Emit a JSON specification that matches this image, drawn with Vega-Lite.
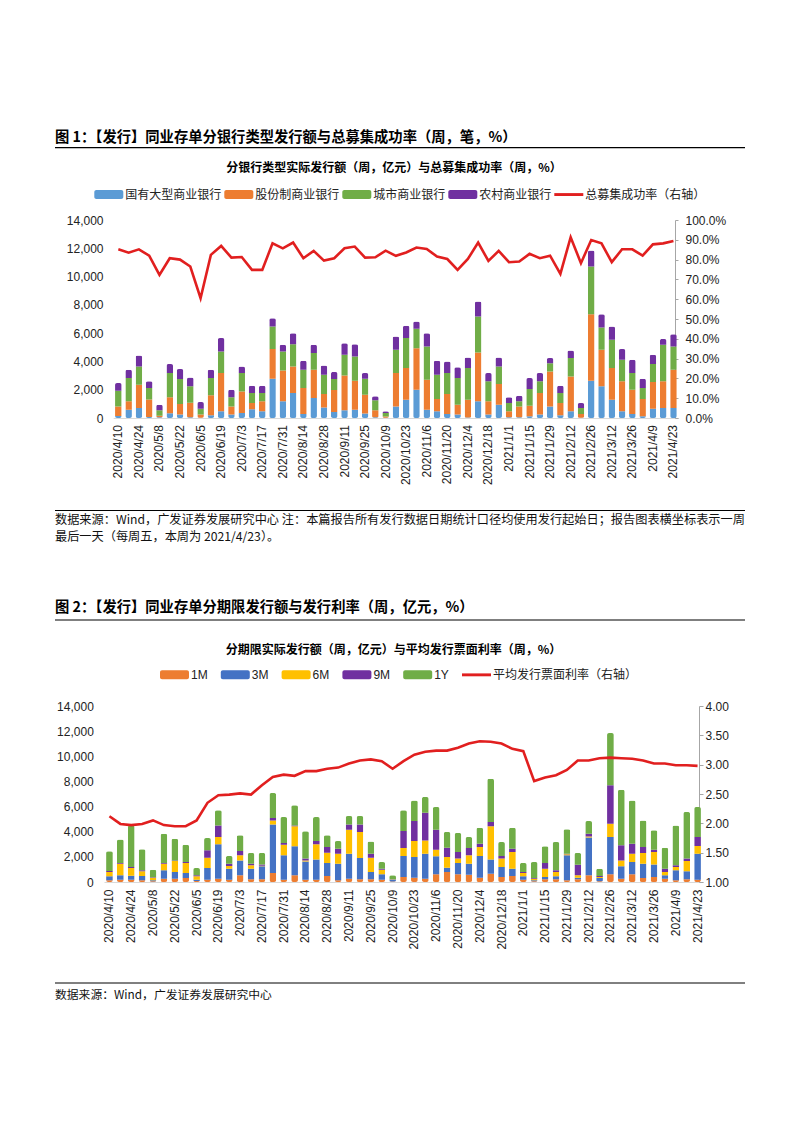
{
"$schema": "https://vega.github.io/schema/vega-lite/v6.json",
"background": "white",
"padding": {"left": 54, "top": 128, "right": 10, "bottom": 10},
"spacing": 0,
"config": {
  "view": {"stroke": null},
  "font": "Liberation Sans, Noto Sans CJK SC",
  "axis": {"labelFont": "Liberation Sans, Noto Sans CJK SC", "labelFontSize": 12, "labelColor": "#222", "grid": false},
  "title": {"font": "Noto Sans CJK SC", "fontSize": 12, "fontWeight": "bold", "color": "#000"}
},
"datasets": {
  "bankorder": [{"s": "国有大型商业银行", "o": 1}, {"s": "股份制商业银行", "o": 2}, {"s": "城市商业银行", "o": 3}, {"s": "农村商业银行", "o": 4}],
  "tenororder": [{"s": "1M", "o": 1}, {"s": "3M", "o": 2}, {"s": "6M", "o": 3}, {"s": "9M", "o": 4}, {"s": "1Y", "o": 5}],
  "bank": [
    {"d": "2020/4/10", "国有大型商业银行": 150, "股份制商业银行": 670, "城市商业银行": 1110, "农村商业银行": 540, "rate": 0.852},
    {"d": "2020/4/17", "国有大型商业银行": 590, "股份制商业银行": 590, "城市商业银行": 1640, "农村商业银行": 590, "rate": 0.835},
    {"d": "2020/4/24", "国有大型商业银行": 700, "股份制商业银行": 1650, "城市商业银行": 1300, "农村商业银行": 770, "rate": 0.852},
    {"d": "2020/5/1", "国有大型商业银行": 70, "股份制商业银行": 1230, "城市商业银行": 820, "农村商业银行": 470, "rate": 0.820},
    {"d": "2020/5/8", "国有大型商业银行": 50, "股份制商业银行": 110, "城市商业银行": 380, "农村商业银行": 400, "rate": 0.723},
    {"d": "2020/5/15", "国有大型商业银行": 330, "股份制商业银行": 1130, "城市商业银行": 1720, "农村商业银行": 630, "rate": 0.807},
    {"d": "2020/5/22", "国有大型商业银行": 240, "股份制商业银行": 750, "城市商业银行": 1760, "农村商业银行": 710, "rate": 0.800},
    {"d": "2020/5/29", "国有大型商业银行": 50, "股份制商业银行": 1030, "城市商业银行": 1160, "农村商业银行": 630, "rate": 0.765},
    {"d": "2020/6/5", "国有大型商业银行": 20, "股份制商业银行": 220, "城市商业银行": 420, "农村商业银行": 470, "rate": 0.605},
    {"d": "2020/6/12", "国有大型商业银行": 190, "股份制商业银行": 1410, "城市商业银行": 1220, "农村商业银行": 590, "rate": 0.824},
    {"d": "2020/6/19", "国有大型商业银行": 470, "股份制商业银行": 2710, "城市商业银行": 1520, "农村商业银行": 950, "rate": 0.869},
    {"d": "2020/6/26", "国有大型商业银行": 240, "股份制商业银行": 580, "城市商业银行": 640, "农村商业银行": 540, "rate": 0.810},
    {"d": "2020/7/3", "国有大型商业银行": 350, "股份制商业银行": 1530, "城市商业银行": 1300, "农村商业银行": 470, "rate": 0.813},
    {"d": "2020/7/10", "国有大型商业银行": 610, "股份制商业银行": 450, "城市商业银行": 700, "农村商业银行": 520, "rate": 0.748},
    {"d": "2020/7/17", "国有大型商业银行": 470, "股份制商业银行": 710, "城市商业银行": 580, "农村商业银行": 520, "rate": 0.748},
    {"d": "2020/7/24", "国有大型商业银行": 2780, "股份制商业银行": 2090, "城市商业银行": 1600, "农村商业银行": 590, "rate": 0.882},
    {"d": "2020/7/31", "国有大型商业银行": 1180, "股份制商业银行": 2180, "城市商业银行": 1340, "农村商业银行": 480, "rate": 0.857},
    {"d": "2020/8/7", "国有大型商业银行": 1760, "股份制商业银行": 1890, "城市商业银行": 1570, "农村商业银行": 780, "rate": 0.886},
    {"d": "2020/8/14", "国有大型商业银行": 280, "股份制商业银行": 1840, "城市商业银行": 1290, "农村商业银行": 640, "rate": 0.807},
    {"d": "2020/8/21", "国有大型商业银行": 1410, "股份制商业银行": 2000, "城市商业银行": 1180, "农村商业银行": 590, "rate": 0.844},
    {"d": "2020/8/28", "国有大型商业银行": 750, "股份制商业银行": 940, "城市商业银行": 1370, "农村商业银行": 660, "rate": 0.795},
    {"d": "2020/9/4", "国有大型商业银行": 420, "股份制商业银行": 1560, "城市商业银行": 770, "农村商业银行": 500, "rate": 0.807},
    {"d": "2020/9/11", "国有大型商业银行": 540, "股份制商业银行": 2470, "城市商业银行": 1460, "农村商业银行": 820, "rate": 0.857},
    {"d": "2020/9/18", "国有大型商业银行": 590, "股份制商业银行": 2050, "城市商业银行": 1710, "农村商业银行": 870, "rate": 0.866},
    {"d": "2020/9/25", "国有大型商业银行": 310, "股份制商业银行": 1340, "城市商业银行": 1130, "农村商业银行": 400, "rate": 0.810},
    {"d": "2020/10/2", "国有大型商业银行": 50, "股份制商业银行": 490, "城市商业银行": 710, "农村商业银行": 280, "rate": 0.812},
    {"d": "2020/10/9", "国有大型商业银行": 20, "股份制商业银行": 80, "城市商业银行": 250, "农村商业银行": 120, "rate": 0.845},
    {"d": "2020/10/16", "国有大型商业银行": 820, "股份制商业银行": 2360, "城市商业银行": 1640, "农村商业银行": 940, "rate": 0.819},
    {"d": "2020/10/23", "国有大型商业银行": 1290, "股份制商业银行": 2240, "城市商业银行": 2120, "农村商业银行": 870, "rate": 0.836},
    {"d": "2020/10/30", "国有大型商业银行": 2000, "股份制商业银行": 2940, "城市商业银行": 1370, "农村商业银行": 510, "rate": 0.861},
    {"d": "2020/11/6", "国有大型商业银行": 590, "股份制商业银行": 2120, "城市商业银行": 2350, "农村商业银行": 940, "rate": 0.854},
    {"d": "2020/11/13", "国有大型商业银行": 470, "股份制商业银行": 870, "城市商业银行": 1720, "农村商业银行": 990, "rate": 0.815},
    {"d": "2020/11/20", "国有大型商业银行": 280, "股份制商业银行": 1410, "城市商业银行": 1490, "农村商业银行": 820, "rate": 0.803},
    {"d": "2020/11/27", "国有大型商业银行": 240, "股份制商业银行": 700, "城市商业银行": 1880, "农村商业银行": 760, "rate": 0.748},
    {"d": "2020/12/4", "国有大型商业银行": 30, "股份制商业银行": 1260, "城市商业银行": 2240, "农村商业银行": 750, "rate": 0.803},
    {"d": "2020/12/11", "国有大型商业银行": 1180, "股份制商业银行": 3460, "城市商业银行": 2540, "农村商业银行": 1060, "rate": 0.886},
    {"d": "2020/12/18", "国有大型商业银行": 240, "股份制商业银行": 940, "城市商业银行": 1410, "农村商业银行": 590, "rate": 0.793},
    {"d": "2020/12/25", "国有大型商业银行": 940, "股份制商业银行": 1460, "城市商业银行": 1250, "农村商业银行": 630, "rate": 0.844},
    {"d": "2021/1/1", "国有大型商业银行": 50, "股份制商业银行": 420, "城市商业银行": 590, "农村商业银行": 400, "rate": 0.787},
    {"d": "2021/1/8", "国有大型商业银行": 50, "股份制商业银行": 770, "城市商业银行": 360, "农村商业银行": 400, "rate": 0.790},
    {"d": "2021/1/15", "国有大型商业银行": 120, "股份制商业银行": 750, "城市商业银行": 1180, "农村商业银行": 770, "rate": 0.829},
    {"d": "2021/1/22", "国有大型商业银行": 240, "股份制商业银行": 1520, "城市商业银行": 830, "农村商业银行": 590, "rate": 0.807},
    {"d": "2021/1/29", "国有大型商业银行": 820, "股份制商业银行": 2470, "城市商业银行": 590, "农村商业银行": 360, "rate": 0.820},
    {"d": "2021/2/5", "国有大型商业银行": 190, "股份制商业银行": 870, "城市商业银行": 700, "农村商业银行": 520, "rate": 0.728},
    {"d": "2021/2/12", "国有大型商业银行": 470, "股份制商业银行": 2470, "城市商业银行": 1300, "农村商业银行": 540, "rate": 0.913},
    {"d": "2021/2/19", "国有大型商业银行": 20, "股份制商业银行": 260, "城市商业银行": 430, "农村商业银行": 350, "rate": 0.782},
    {"d": "2021/2/26", "国有大型商业银行": 2640, "股份制商业银行": 4700, "城市商业银行": 3370, "农村商业银行": 1130, "rate": 0.899},
    {"d": "2021/3/5", "国有大型商业银行": 2240, "股份制商业银行": 2580, "城市商业银行": 1580, "农村商业银行": 940, "rate": 0.882},
    {"d": "2021/3/12", "国有大型商业银行": 1290, "股份制商业银行": 2240, "城市商业银行": 2000, "农村商业银行": 940, "rate": 0.787},
    {"d": "2021/3/19", "国有大型商业银行": 470, "股份制商业银行": 2120, "城市商业银行": 1530, "农村商业银行": 750, "rate": 0.852},
    {"d": "2021/3/26", "国有大型商业银行": 280, "股份制商业银行": 1720, "城市商业银行": 1180, "农村商业银行": 940, "rate": 0.852},
    {"d": "2021/4/2", "国有大型商业银行": 120, "股份制商业银行": 1220, "城市商业银行": 780, "农村商业银行": 660, "rate": 0.820},
    {"d": "2021/4/9", "国有大型商业银行": 660, "股份制商业银行": 1880, "城市商业银行": 1270, "农村商业银行": 660, "rate": 0.877},
    {"d": "2021/4/16", "国有大型商业银行": 710, "股份制商业银行": 1880, "城市商业银行": 2590, "农村商业银行": 400, "rate": 0.882},
    {"d": "2021/4/23", "国有大型商业银行": 710, "股份制商业银行": 2700, "城市商业银行": 1650, "农村商业银行": 870, "rate": 0.894}
  ],
  "tenor": [
    {"d": "2020/4/10", "1M": 130, "3M": 320, "6M": 340, "9M": 80, "1Y": 1570, "rate": 2.12},
    {"d": "2020/4/17", "1M": 185, "3M": 345, "6M": 930, "9M": 50, "1Y": 1880, "rate": 1.99},
    {"d": "2020/4/24", "1M": 185, "3M": 315, "6M": 610, "9M": 80, "1Y": 3310, "rate": 1.97},
    {"d": "2020/5/1", "1M": 130, "3M": 350, "6M": 370, "9M": 80, "1Y": 1670, "rate": 1.99},
    {"d": "2020/5/8", "1M": 50, "3M": 80, "6M": 215, "9M": 30, "1Y": 600, "rate": 2.05},
    {"d": "2020/5/15", "1M": 265, "3M": 665, "6M": 530, "9M": 50, "1Y": 2330, "rate": 1.97},
    {"d": "2020/5/22", "1M": 265, "3M": 535, "6M": 870, "9M": 50, "1Y": 1730, "rate": 1.95},
    {"d": "2020/5/29", "1M": 320, "3M": 400, "6M": 790, "9M": 80, "1Y": 1380, "rate": 1.95},
    {"d": "2020/6/5", "1M": 80, "3M": 105, "6M": 265, "9M": 80, "1Y": 580, "rate": 2.05},
    {"d": "2020/6/12", "1M": 185, "3M": 925, "6M": 820, "9M": 590, "1Y": 980, "rate": 2.35},
    {"d": "2020/6/19", "1M": 265, "3M": 2735, "6M": 580, "9M": 920, "1Y": 1200, "rate": 2.48},
    {"d": "2020/6/26", "1M": 185, "3M": 875, "6M": 210, "9M": 190, "1Y": 610, "rate": 2.49},
    {"d": "2020/7/3", "1M": 530, "3M": 1190, "6M": 400, "9M": 340, "1Y": 1250, "rate": 2.51},
    {"d": "2020/7/10", "1M": 210, "3M": 850, "6M": 270, "9M": 130, "1Y": 850, "rate": 2.49},
    {"d": "2020/7/17", "1M": 210, "3M": 1040, "6M": 50, "9M": 100, "1Y": 910, "rate": 2.65},
    {"d": "2020/7/24", "1M": 720, "3M": 3860, "6M": 320, "9M": 190, "1Y": 1990, "rate": 2.79},
    {"d": "2020/7/31", "1M": 185, "3M": 1935, "6M": 850, "9M": 130, "1Y": 2070, "rate": 2.83},
    {"d": "2020/8/7", "1M": 530, "3M": 2310, "6M": 1590, "9M": 70, "1Y": 1600, "rate": 2.81},
    {"d": "2020/8/14", "1M": 185, "3M": 1455, "6M": 80, "9M": 140, "1Y": 2170, "rate": 2.89},
    {"d": "2020/8/21", "1M": 185, "3M": 1595, "6M": 1220, "9M": 260, "1Y": 1910, "rate": 2.89},
    {"d": "2020/8/28", "1M": 480, "3M": 1030, "6M": 820, "9M": 450, "1Y": 930, "rate": 2.93},
    {"d": "2020/9/4", "1M": 130, "3M": 1330, "6M": 790, "9M": 400, "1Y": 610, "rate": 2.95},
    {"d": "2020/9/11", "1M": 265, "3M": 1985, "6M": 1910, "9M": 420, "1Y": 670, "rate": 3.02},
    {"d": "2020/9/18", "1M": 210, "3M": 1700, "6M": 2070, "9M": 600, "1Y": 670, "rate": 3.07},
    {"d": "2020/9/25", "1M": 210, "3M": 590, "6M": 1130, "9M": 320, "1Y": 980, "rate": 3.09},
    {"d": "2020/10/2", "1M": 185, "3M": 425, "6M": 370, "9M": 80, "1Y": 530, "rate": 3.06},
    {"d": "2020/10/9", "1M": 30, "3M": 150, "6M": 20, "9M": 20, "1Y": 310, "rate": 2.93},
    {"d": "2020/10/16", "1M": 400, "3M": 1670, "6M": 630, "9M": 1350, "1Y": 1650, "rate": 3.06},
    {"d": "2020/10/23", "1M": 345, "3M": 1645, "6M": 1270, "9M": 1590, "1Y": 1640, "rate": 3.17},
    {"d": "2020/10/30", "1M": 265, "3M": 1985, "6M": 1060, "9M": 2200, "1Y": 1250, "rate": 3.22},
    {"d": "2020/11/6", "1M": 610, "3M": 1430, "6M": 530, "9M": 1590, "1Y": 1800, "rate": 3.24},
    {"d": "2020/11/13", "1M": 800, "3M": 340, "6M": 850, "9M": 740, "1Y": 1250, "rate": 3.24},
    {"d": "2020/11/20", "1M": 610, "3M": 900, "6M": 350, "9M": 530, "1Y": 1510, "rate": 3.29},
    {"d": "2020/11/27", "1M": 580, "3M": 880, "6M": 660, "9M": 580, "1Y": 880, "rate": 3.36},
    {"d": "2020/12/4", "1M": 345, "3M": 1725, "6M": 710, "9M": 270, "1Y": 1270, "rate": 3.40},
    {"d": "2020/12/11", "1M": 660, "3M": 1120, "6M": 2650, "9M": 340, "1Y": 3450, "rate": 3.39},
    {"d": "2020/12/18", "1M": 400, "3M": 790, "6M": 670, "9M": 210, "1Y": 1110, "rate": 3.36},
    {"d": "2020/12/25", "1M": 480, "3M": 580, "6M": 1330, "9M": 260, "1Y": 1670, "rate": 3.27},
    {"d": "2021/1/1", "1M": 185, "3M": 265, "6M": 270, "9M": 80, "1Y": 710, "rate": 3.23},
    {"d": "2021/1/8", "1M": 50, "3M": 80, "6M": 135, "9M": 55, "1Y": 1270, "rate": 2.72},
    {"d": "2021/1/15", "1M": 210, "3M": 190, "6M": 660, "9M": 450, "1Y": 1330, "rate": 2.78},
    {"d": "2021/1/22", "1M": 210, "3M": 240, "6M": 350, "9M": 130, "1Y": 2250, "rate": 2.82},
    {"d": "2021/1/29", "1M": 130, "3M": 1990, "6M": 80, "9M": 50, "1Y": 1940, "rate": 2.91},
    {"d": "2021/2/5", "1M": 210, "3M": 135, "6M": 185, "9M": 850, "1Y": 930, "rate": 3.07},
    {"d": "2021/2/12", "1M": 530, "3M": 3000, "6M": 80, "9M": 230, "1Y": 1010, "rate": 3.07},
    {"d": "2021/2/19", "1M": 50, "3M": 270, "6M": 80, "9M": 80, "1Y": 580, "rate": 3.11},
    {"d": "2021/2/26", "1M": 610, "3M": 2970, "6M": 1060, "9M": 3050, "1Y": 4160, "rate": 3.12},
    {"d": "2021/3/5", "1M": 265, "3M": 985, "6M": 470, "9M": 1200, "1Y": 4420, "rate": 3.11},
    {"d": "2021/3/12", "1M": 610, "3M": 980, "6M": 660, "9M": 800, "1Y": 3440, "rate": 3.10},
    {"d": "2021/3/19", "1M": 320, "3M": 1140, "6M": 850, "9M": 470, "1Y": 2120, "rate": 3.07},
    {"d": "2021/3/26", "1M": 400, "3M": 1000, "6M": 990, "9M": 180, "1Y": 1540, "rate": 3.02},
    {"d": "2021/4/2", "1M": 265, "3M": 265, "6M": 270, "9M": 260, "1Y": 1670, "rate": 3.02},
    {"d": "2021/4/9", "1M": 130, "3M": 800, "6M": 260, "9M": 140, "1Y": 3170, "rate": 2.99},
    {"d": "2021/4/16", "1M": 210, "3M": 640, "6M": 820, "9M": 190, "1Y": 3710, "rate": 2.99},
    {"d": "2021/4/23", "1M": 185, "3M": 2065, "6M": 610, "9M": 720, "1Y": 2380, "rate": 2.98}
  ]
},
"resolve": {"scale": {"color": "independent"}, "legend": {"color": "independent"}},
"vconcat": [
  {
    "width": 641, "height": 33,
    "layer": [
      {
        "data": {"values": [{"t": "图 1：【发行】同业存单分银行类型发行额与总募集成功率（周，笔，%）"}]},
        "mark": {"type": "text", "align": "left", "baseline": "middle", "font": "Noto Sans CJK SC", "fontSize": 14.3, "fontWeight": "bold", "color": "#000"},
        "encoding": {
          "x": {"datum": 0, "type": "quantitative", "scale": {"domain": [0, 1], "range": [-49, 641], "nice": false, "zero": false}, "axis": null},
          "y": {"datum": 9.7, "type": "quantitative", "scale": {"domain": [0, 33], "reverse": true, "nice": false}, "axis": null},
          "text": {"field": "t"}
        }
      },
      {
        "data": {"values": [{"t": "rule"}]},
        "mark": {"type": "rule", "color": "#000", "strokeWidth": 1.2},
        "encoding": {
          "x": {"datum": 0, "type": "quantitative"},
          "x2": {"datum": 1},
          "y": {"datum": 19.7, "type": "quantitative"}
        }
      }
    ]
  },
  {
    "width": 571, "height": 198,
    "title": {"text": "分银行类型实际发行额（周，亿元）与总募集成功率（周，%）", "anchor": "middle", "frame": "group", "dx": 4.5, "offset": 5},
    "data": {"name": "bank"},
    "encoding": {
      "x": {"field": "d", "type": "ordinal", "sort": null,
        "scale": {"range": [9.2, 574.6], "paddingInner": 0.36, "paddingOuter": 0.18},
        "axis": {"title": null, "labelAngle": -90, "labelPadding": 6.5, "ticks": false, "tickSize": 0, "domain": true, "domainColor": "#D9D9D9",
          "values": ["2020/4/10","2020/4/24","2020/5/8","2020/5/22","2020/6/5","2020/6/19","2020/7/3","2020/7/17","2020/7/31","2020/8/14","2020/8/28","2020/9/11","2020/9/25","2020/10/9","2020/10/23","2020/11/6","2020/11/20","2020/12/4","2020/12/18","2021/1/1","2021/1/15","2021/1/29","2021/2/12","2021/2/26","2021/3/12","2021/3/26","2021/4/9","2021/4/23"]}}
    },
    "layer": [
      {
        "transform": [
          {"fold": ["国有大型商业银行", "股份制商业银行", "城市商业银行", "农村商业银行"], "as": ["s", "v"]},
          {"lookup": "s", "from": {"data": {"name": "bankorder"}, "key": "s", "fields": ["o"]}}
        ],
        "mark": {"type": "bar", "cornerRadius": 2},
        "encoding": {
          "y": {"field": "v", "type": "quantitative", "stack": "zero", "scale": {"domain": [0, 14000], "nice": false},
            "axis": {"orient": "left", "title": null, "values": [0,2000,4000,6000,8000,10000,12000,14000], "format": ",.0f", "domain": false, "ticks": false, "tickSize": 0, "labelPadding": 1}},
          "color": {"field": "s", "type": "nominal",
            "scale": {"domain": ["国有大型商业银行", "股份制商业银行", "城市商业银行", "农村商业银行", "总募集成功率（右轴）"], "range": ["#5B9BD5", "#ED7D31", "#70AD47", "#7030A0", "#E11F1F"]},
            "legend": {"orient": "none", "legendX": -9.7, "legendY": -40.2, "direction": "horizontal", "columns": 5, "title": null,
              "symbolType": "M-0.86,-0.31H0.86A0.14,0.14 0 0 1 1,-0.17V0.17A0.14,0.14 0 0 1 0.86,0.31H-0.86A0.14,0.14 0 0 1 -1,0.17V-0.17A0.14,0.14 0 0 1 -0.86,-0.31Z",
              "symbolSize": 841, "symbolStrokeWidth": 0, "symbolOpacity": 1, "labelFont": "Noto Sans CJK SC", "labelFontSize": 12, "labelColor": "#222", "labelOffset": 2, "columnPadding": 2, "labelLimit": 300, "padding": 0,
              "encode": {"symbols": {"update": {"shape": {"signal": "datum.value === '总募集成功率（右轴）' ? 'M-1,-0.1H1V0.1H-1Z' : 'M-0.86,-0.31H0.86A0.14,0.14 0 0 1 1,-0.17V0.17A0.14,0.14 0 0 1 0.86,0.31H-0.86A0.14,0.14 0 0 1 -1,0.17V-0.17A0.14,0.14 0 0 1 -0.86,-0.31Z'"}}}}}},
          "order": {"field": "o", "type": "quantitative", "sort": "ascending"}
        }
      },
      {
        "mark": {"type": "line", "strokeWidth": 2.6},
        "encoding": {
          "y": {"field": "rate", "type": "quantitative", "scale": {"domain": [0, 1], "nice": false},
            "axis": {"orient": "right", "title": null, "values": [0,0.1,0.2,0.3,0.4,0.5,0.6,0.7,0.8,0.9,1], "format": ".1%", "domain": true, "domainColor": "#A6A6A6", "ticks": true, "tickSize": 3, "tickColor": "#A6A6A6", "labelPadding": 7}},
          "color": {"datum": "总募集成功率（右轴）", "type": "nominal"}
        }
      }
    ],
    "resolve": {"scale": {"y": "independent"}}
  },
  {
    "width": 641, "height": 159,
    "layer": [
      {
        "data": {"values": [{"t": "rule"}]},
        "mark": {"type": "rule", "color": "#000", "strokeWidth": 1},
        "encoding": {
          "x": {"datum": 0, "type": "quantitative", "scale": {"domain": [0, 1], "range": [-49, 641], "nice": false, "zero": false}, "axis": null},
          "x2": {"datum": 1},
          "y": {"datum": 25.5, "type": "quantitative", "scale": {"domain": [0, 159], "reverse": true, "nice": false}, "axis": null}
        }
      },
      {
        "data": {"values": [{"t": "数据来源：Wind，广发证券发展研究中心 注：本篇报告所有发行数据日期统计口径均使用发行起始日；报告图表横坐标表示一周"}]},
        "mark": {"type": "text", "align": "left", "baseline": "middle", "font": "Noto Sans CJK SC", "fontSize": 12.2, "color": "#111"},
        "encoding": {"x": {"datum": 0, "type": "quantitative"}, "y": {"datum": 34.6, "type": "quantitative"}, "text": {"field": "t"}}
      },
      {
        "data": {"values": [{"t": "最后一天（每周五，本周为 2021/4/23）。"}]},
        "mark": {"type": "text", "align": "left", "baseline": "middle", "font": "Noto Sans CJK SC", "fontSize": 12.2, "color": "#111"},
        "encoding": {"x": {"datum": 0, "type": "quantitative"}, "y": {"datum": 51.5, "type": "quantitative"}, "text": {"field": "t"}}
      },
      {
        "data": {"values": [{"t": "图 2：【发行】同业存单分期限发行额与发行利率（周，亿元，%）"}]},
        "mark": {"type": "text", "align": "left", "baseline": "middle", "font": "Noto Sans CJK SC", "fontSize": 14.3, "fontWeight": "bold", "color": "#000"},
        "encoding": {"x": {"datum": 0, "type": "quantitative"}, "y": {"datum": 123, "type": "quantitative"}, "text": {"field": "t"}}
      },
      {
        "data": {"values": [{"t": "rule"}]},
        "mark": {"type": "rule", "color": "#000", "strokeWidth": 1.2},
        "encoding": {"x": {"datum": 0, "type": "quantitative"}, "x2": {"datum": 1}, "y": {"datum": 135, "type": "quantitative"}}
      }
    ]
  },
  {
    "width": 595, "height": 176,
    "title": {"text": "分期限实际发行额（周，亿元）与平均发行票面利率（周，%）", "anchor": "middle", "frame": "group", "dx": -8, "offset": 3},
    "data": {"name": "tenor"},
    "encoding": {
      "x": {"field": "d", "type": "ordinal", "sort": null,
        "scale": {"range": [0, 599], "paddingInner": 0.38, "paddingOuter": 0.19},
        "axis": {"title": null, "labelAngle": -90, "labelPadding": 7, "ticks": false, "tickSize": 0, "domain": true, "domainColor": "#D9D9D9",
          "values": ["2020/4/10","2020/4/24","2020/5/8","2020/5/22","2020/6/5","2020/6/19","2020/7/3","2020/7/17","2020/7/31","2020/8/14","2020/8/28","2020/9/11","2020/9/25","2020/10/9","2020/10/23","2020/11/6","2020/11/20","2020/12/4","2020/12/18","2021/1/1","2021/1/15","2021/1/29","2021/2/12","2021/2/26","2021/3/12","2021/3/26","2021/4/9","2021/4/23"]}}
    },
    "layer": [
      {
        "transform": [
          {"fold": ["1M", "3M", "6M", "9M", "1Y"], "as": ["s", "v"]},
          {"lookup": "s", "from": {"data": {"name": "tenororder"}, "key": "s", "fields": ["o"]}}
        ],
        "mark": {"type": "bar", "cornerRadius": 2},
        "encoding": {
          "y": {"field": "v", "type": "quantitative", "stack": "zero", "scale": {"domain": [0, 14000], "nice": false},
            "axis": {"orient": "left", "title": null, "values": [0,2000,4000,6000,8000,10000,12000,14000], "format": ",.0f", "domain": false, "ticks": false, "tickSize": 0, "labelPadding": 10.7}},
          "color": {"field": "s", "type": "nominal",
            "scale": {"domain": ["1M", "3M", "6M", "9M", "1Y", "平均发行票面利率（右轴）"], "range": ["#ED7D31", "#4472C4", "#FFC000", "#7030A0", "#70AD47", "#E11F1F"]},
            "legend": {"orient": "none", "legendX": 56, "legendY": -45.9, "direction": "horizontal", "columns": 6, "title": null,
              "symbolType": "M-0.86,-0.31H0.86A0.14,0.14 0 0 1 1,-0.17V0.17A0.14,0.14 0 0 1 0.86,0.31H-0.86A0.14,0.14 0 0 1 -1,0.17V-0.17A0.14,0.14 0 0 1 -0.86,-0.31Z",
              "symbolSize": 841, "symbolStrokeWidth": 0, "symbolOpacity": 1, "labelFont": "Liberation Sans, Noto Sans CJK SC", "labelFontSize": 12, "labelColor": "#222", "labelOffset": 2, "columnPadding": 12.8, "labelLimit": 300, "padding": 0,
              "encode": {"symbols": {"update": {"shape": {"signal": "datum.value === '平均发行票面利率（右轴）' ? 'M-1,-0.1H1V0.1H-1Z' : 'M-0.86,-0.31H0.86A0.14,0.14 0 0 1 1,-0.17V0.17A0.14,0.14 0 0 1 0.86,0.31H-0.86A0.14,0.14 0 0 1 -1,0.17V-0.17A0.14,0.14 0 0 1 -0.86,-0.31Z'"}}}}}},
          "order": {"field": "o", "type": "quantitative", "sort": "ascending"}
        }
      },
      {
        "mark": {"type": "line", "strokeWidth": 2.6},
        "encoding": {
          "y": {"field": "rate", "type": "quantitative", "scale": {"domain": [1, 4], "nice": false, "zero": false},
            "axis": {"orient": "right", "title": null, "values": [1,1.5,2,2.5,3,3.5,4], "format": ".2f", "domain": true, "domainColor": "#A6A6A6", "ticks": true, "tickSize": 4, "tickColor": "#A6A6A6", "labelPadding": 2}},
          "color": {"datum": "平均发行票面利率（右轴）", "type": "nominal"}
        }
      }
    ],
    "resolve": {"scale": {"y": "independent"}}
  },
  {
    "width": 641, "height": 55,
    "layer": [
      {
        "data": {"values": [{"t": "rule"}]},
        "mark": {"type": "rule", "color": "#000", "strokeWidth": 1},
        "encoding": {
          "x": {"datum": 0, "type": "quantitative", "scale": {"domain": [0, 1], "range": [-49, 641], "nice": false, "zero": false}, "axis": null},
          "x2": {"datum": 1},
          "y": {"datum": 33, "type": "quantitative", "scale": {"domain": [0, 55], "reverse": true, "nice": false}, "axis": null}
        }
      },
      {
        "data": {"values": [{"t": "数据来源：Wind，广发证券发展研究中心"}]},
        "mark": {"type": "text", "align": "left", "baseline": "middle", "font": "Noto Sans CJK SC", "fontSize": 11.8, "color": "#111"},
        "encoding": {"x": {"datum": 0, "type": "quantitative"}, "y": {"datum": 45, "type": "quantitative"}, "text": {"field": "t"}}
      }
    ]
  }
]
}
